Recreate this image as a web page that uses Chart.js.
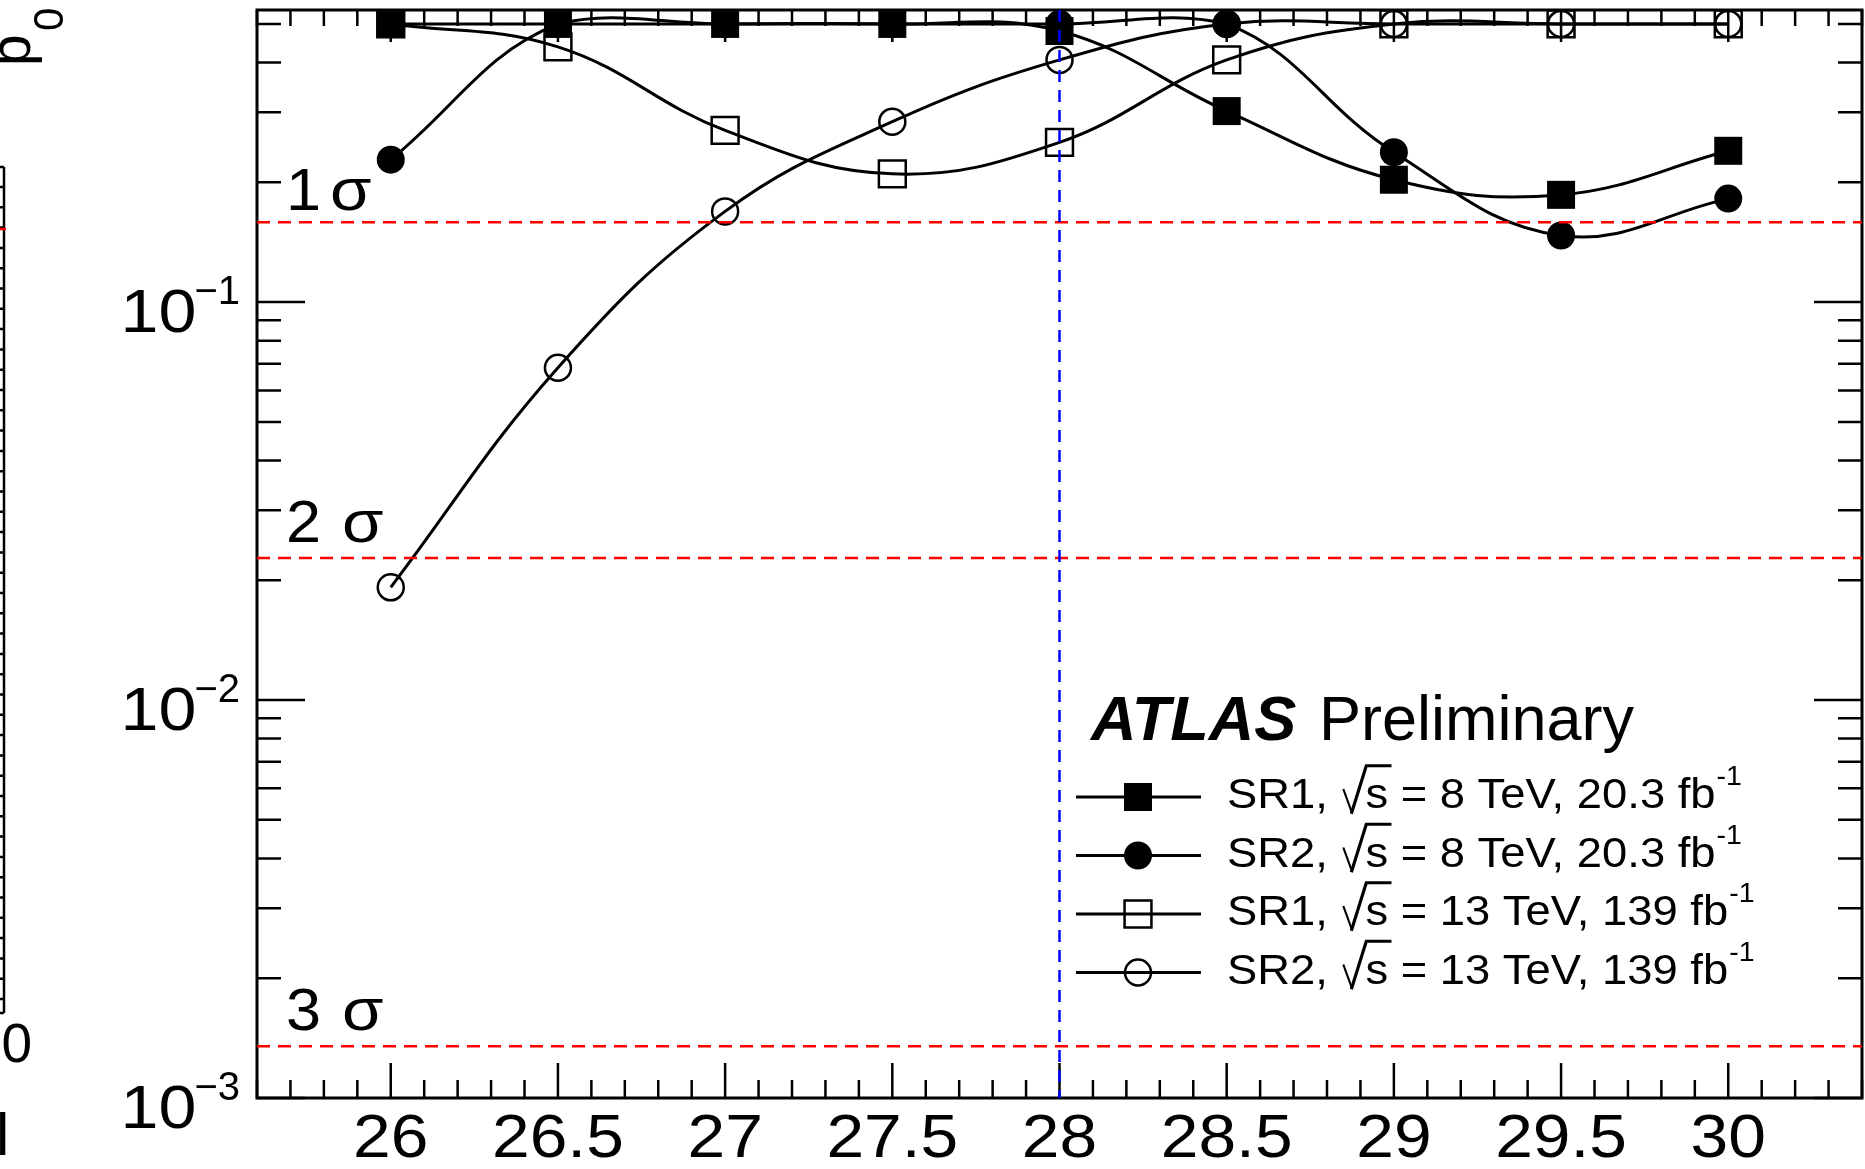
<!DOCTYPE html>
<html>
<head>
<meta charset="utf-8">
<script src="https://cdn.jsdelivr.net/npm/chart.js@4.4.1/dist/chart.umd.min.js"></script>
<style>
  body { margin: 0; background: #fff; }
  #wrap { position: relative; width: 1865px; height: 1169px; }
</style>
</head>
<body>
<div id="wrap"><canvas id="p0scan"></canvas></div>
<script>
// local p0 scan vs. mass hypothesis
var masses = [26, 26.5, 27, 27.5, 28, 28.5, 29, 29.5, 30];
var sr1_8tev  = [0.5, 0.5, 0.5, 0.5, 0.48, 0.302, 0.203, 0.186, 0.24];
var sr2_8tev  = [0.228, 0.5, 0.5, 0.5, 0.5, 0.5, 0.238, 0.147, 0.182];
var sr1_13tev = [0.5, 0.438, 0.27, 0.21, 0.252, 0.406, 0.5, 0.5, 0.5];
var sr2_13tev = [0.0192, 0.0684, 0.169, 0.284, 0.406, 0.5, 0.5, 0.5, 0.5];

var xTickLabels = ['26', '26.5', '27', '27.5', '28', '28.5', '29', '29.5', '30'];
var yDecades = [-3, -2, -1];
var sigmaLevels = [0.1587, 0.02275, 0.00135];
var sigmaNumbers = ['1', '2', '3'];
var markedMass = 28;

var legendRows = [
  { region: 'SR1', energy: '8', lumi: '20.3' },
  { region: 'SR2', energy: '8', lumi: '20.3' },
  { region: 'SR1', energy: '13', lumi: '139' },
  { region: 'SR2', energy: '13', lumi: '139' }
];

var FONT = '"Liberation Sans", Arial, Helvetica, sans-serif';

function pts(vals) {
  return masses.map(function (m, i) { return { x: m, y: vals[i] }; });
}

function series(label, vals, style, filled) {
  var rect = style === 'rect';
  return {
    label: label,
    data: pts(vals),
    borderColor: '#000',
    borderWidth: 3,
    tension: 0.4,
    pointStyle: style,
    pointRadius: rect ? (filled ? 19.8 : 19) : (filled ? 14 : 13),
    pointBackgroundColor: filled ? '#000' : 'rgba(0,0,0,0)',
    pointBorderColor: '#000',
    pointBorderWidth: filled ? 0 : 2.5,
    clip: false
  };
}

// text drawn a little wider than the font's own width
function wideText(ctx, str, x, y, sx, align) {
  ctx.save();
  ctx.translate(x, y);
  ctx.scale(sx, 1);
  ctx.textAlign = align;
  ctx.fillText(str, 0, 0);
  ctx.restore();
  return ctx.measureText(str).width * sx;
}

// ROOT-style frame with inward ticks on all four sides
var frame = {
  id: 'frame',
  beforeDatasetsDraw: function (chart) {
    var ctx = chart.ctx, a = chart.chartArea;
    var xs = chart.scales.x, ys = chart.scales.y;
    ctx.save();
    ctx.strokeStyle = '#000';
    ctx.lineWidth = 2.5;
    ctx.beginPath();
    for (var i = 0; i <= 48; i++) {
      var v = Math.round((25.6 + i * 0.1) * 10) / 10;
      var px = xs.getPixelForValue(v);
      var major = Math.abs(v * 2 - Math.round(v * 2)) < 1e-6;
      ctx.moveTo(px, a.bottom); ctx.lineTo(px, a.bottom - (major ? 35 : 18));
      ctx.moveTo(px, a.top); ctx.lineTo(px, a.top + (major ? 32 : 16));
    }
    for (var k = -3; k <= -1; k++) {
      for (var m = 1; m <= 9; m++) {
        var val = m * Math.pow(10, k);
        if (val > ys.max) continue;
        var py = ys.getPixelForValue(val);
        var len = m === 1 ? 48 : 24;
        ctx.moveTo(a.left, py); ctx.lineTo(a.left + len, py);
        ctx.moveTo(a.right, py); ctx.lineTo(a.right - len, py);
      }
    }
    ctx.stroke();
    ctx.lineWidth = 3;
    ctx.strokeRect(a.left, a.top, a.right - a.left, a.bottom - a.top);
    ctx.restore();
  }
};

// significance levels and the marked mass
var refLines = {
  id: 'refLines',
  afterDatasetsDraw: function (chart) {
    var ctx = chart.ctx, a = chart.chartArea;
    var xs = chart.scales.x, ys = chart.scales.y;
    ctx.save();
    ctx.lineWidth = 2.5;
    ctx.strokeStyle = '#ff0000';
    ctx.setLineDash([13, 8]);
    sigmaLevels.forEach(function (p) {
      var y = ys.getPixelForValue(p);
      ctx.beginPath(); ctx.moveTo(a.left, y); ctx.lineTo(a.right, y); ctx.stroke();
    });
    ctx.strokeStyle = '#0000ff';
    ctx.setLineDash([12, 8]);
    var x = xs.getPixelForValue(markedMass);
    ctx.beginPath(); ctx.moveTo(x, a.top); ctx.lineTo(x, a.bottom); ctx.stroke();
    ctx.restore();
  }
};

var labels = {
  id: 'labels',
  afterDraw: function (chart) {
    var ctx = chart.ctx;
    var xs = chart.scales.x, ys = chart.scales.y;
    ctx.save();
    ctx.fillStyle = '#000';
    ctx.textBaseline = 'alphabetic';

    // x tick labels
    ctx.font = '61px ' + FONT;
    xTickLabels.forEach(function (t) {
      wideText(ctx, t, xs.getPixelForValue(parseFloat(t)), 1157, 1.11, 'center');
    });

    // y tick labels 10^k
    yDecades.forEach(function (k) {
      var y = ys.getPixelForValue(Math.pow(10, k));
      var sup = '\u2212' + (-k);
      ctx.font = '40px ' + FONT;
      ctx.textAlign = 'right';
      ctx.fillText(sup, 240, y + 2);
      var sw = ctx.measureText(sup).width;
      ctx.font = '62px ' + FONT;
      wideText(ctx, '10', 240 - sw + 2, y + 30, 1.1, 'right');
    });

    // sigma labels
    sigmaLevels.forEach(function (p, i) {
      var y = ys.getPixelForValue(p) - (i === 0 ? 12 : 16);
      ctx.font = '60px ' + FONT;
      wideText(ctx, sigmaNumbers[i], 286, y, 1.05, 'left');
      wideText(ctx, '\u03c3', i === 0 ? 330 : 342, y, 1.12, 'left');
    });

    // ATLAS label
    ctx.textAlign = 'left';
    ctx.font = 'italic bold 63px ' + FONT;
    ctx.fillText('ATLAS', 1091, 740);
    ctx.font = '63px ' + FONT;
    ctx.fillText('Preliminary', 1319, 740);

    // legend: line through marker, then text with sqrt(s) and fb^-1
    chart.data.datasets.forEach(function (ds, i) {
      var cy = 797 + i * 58.5;
      ctx.strokeStyle = '#000';
      ctx.lineWidth = 3;
      ctx.beginPath(); ctx.moveTo(1076, cy); ctx.lineTo(1201, cy); ctx.stroke();
      ctx.fillStyle = ds.pointBackgroundColor;
      ctx.lineWidth = ds.pointBorderWidth;
      Chart.helpers.drawPoint(ctx, {
        pointStyle: ds.pointStyle, radius: ds.pointRadius,
        rotation: 0, borderWidth: ds.pointBorderWidth
      }, 1138, cy);

      var row = legendRows[i], S = 43, yb = cy + 11, x = 0;
      ctx.save();
      ctx.translate(1227, 0);
      ctx.scale(1.055, 1);
      ctx.fillStyle = '#000';
      ctx.textAlign = 'left';
      ctx.font = S + 'px ' + FONT;
      var head = row.region + ', ';
      ctx.fillText(head, x, yb);
      x += ctx.measureText(head).width + 3;
      // radical sign
      ctx.lineCap = 'square';
      ctx.lineWidth = 2;
      ctx.beginPath();
      ctx.moveTo(x, yb - 0.42 * S);
      ctx.lineTo(x + 0.18 * S, yb + 0.1 * S);
      ctx.stroke();
      ctx.lineWidth = 3;
      ctx.beginPath();
      ctx.moveTo(x + 0.18 * S, yb + 0.1 * S);
      ctx.lineTo(x + 0.5 * S, yb - 0.98 * S);
      ctx.lineTo(x + 1.02 * S, yb - 0.98 * S);
      ctx.stroke();
      ctx.lineCap = 'butt';
      ctx.fillText('s', x + 0.48 * S, yb);
      x += 0.48 * S + ctx.measureText('s').width;
      var tail = ' = ' + row.energy + ' TeV, ' + row.lumi + ' fb';
      ctx.fillText(tail, x, yb);
      x += ctx.measureText(tail).width + 1;
      ctx.font = '27px ' + FONT;
      ctx.fillText('-1', x, yb - 23);
      ctx.restore();
    });

    // edge of the neighbouring panel
    ctx.strokeStyle = '#000';
    ctx.lineWidth = 2.5;
    ctx.beginPath();
    ctx.moveTo(4, 167); ctx.lineTo(4, 1013);
    ctx.moveTo(0, 167); ctx.lineTo(4, 167);
    ctx.moveTo(0, 1013); ctx.lineTo(4, 1013);
    for (var ty = 187; ty < 1013; ty += 20.3) { ctx.moveTo(0, ty); ctx.lineTo(4, ty); }
    ctx.stroke();
    ctx.strokeStyle = '#ff0000';
    ctx.beginPath(); ctx.moveTo(0, 229); ctx.lineTo(6, 229); ctx.stroke();
    ctx.fillStyle = '#000';
    ctx.font = '55px ' + FONT;
    ctx.textAlign = 'right';
    ctx.fillText('50', 32, 1062);
    ctx.font = '60px ' + FONT;
    ctx.textAlign = 'left';
    ctx.fillText('l', -4, 1155);
    ctx.save();
    ctx.translate(30, 66);
    ctx.rotate(-Math.PI / 2);
    ctx.font = '57px ' + FONT;
    ctx.fillText('p', 0, 0);
    ctx.font = '42px ' + FONT;
    ctx.fillText('0', 35, 33);
    ctx.restore();

    ctx.restore();
  }
};

new Chart(document.getElementById('p0scan'), {
  type: 'line',
  data: {
    datasets: [
      series('SR1, 8 TeV', sr1_8tev, 'rect', true),
      series('SR2, 8 TeV', sr2_8tev, 'circle', true),
      series('SR1, 13 TeV', sr1_13tev, 'rect', false),
      series('SR2, 13 TeV', sr2_13tev, 'circle', false)
    ]
  },
  options: {
    responsive: true,
    maintainAspectRatio: false,
    animation: false,
    layout: { autoPadding: false, padding: { left: 257, right: 3, top: 10, bottom: 71 } },
    plugins: { legend: { display: false }, tooltip: { enabled: false } },
    scales: {
      x: { type: 'linear', min: 25.6, max: 30.4, display: false },
      y: { type: 'logarithmic', min: 0.001, max: 0.542, display: false }
    }
  },
  plugins: [frame, refLines, labels]
});
</script>
</body>
</html>
